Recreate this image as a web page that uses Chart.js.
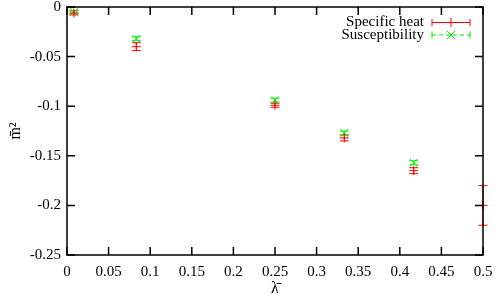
<!DOCTYPE html>
<html>
<head>
<meta charset="UTF-8">
<title>m2 vs lambda</title>
<script src="https://cdn.jsdelivr.net/npm/chart.js"></script>
<style>
  body { margin: 0; background: white; }
  #wrap { width: 498px; height: 298px; }
</style>
</head>
<body>
<div id="wrap"><canvas id="c"></canvas></div>
<script>
// values
const lambdaBar = [0.0083, 0.0833, 0.25, 0.3333, 0.4167, 0.5];
const specHeat = [-0.006, -0.040, -0.099, -0.132, -0.165, -0.200];
const specHeatErr = [0.002, 0.004, 0.002, 0.003, 0.003, 0.02];
const suscept = [-0.005, -0.032, -0.094, -0.127, -0.157];
const susceptErr = [0.0015, 0.002, 0.002, 0.002, 0.002];

const RED = '#ff0000';
const GREEN = '#00ee00';
const FONT = 'Liberation Serif';

function pts(xs, ys) {
    return ys.map((y, i) => ({ x: xs[i], y: y }));
}

function fmt(v) {
    return String(Math.round(v * 100) / 100);
}

// vertical error bars with caps, through the scales
const errorBars = {
    id: 'errorBars',
    beforeDatasetsDraw(chart) {
        const ctx = chart.ctx;
        const xs = chart.scales.x, ys = chart.scales.y;
        chart.data.datasets.forEach(ds => {
            if (!ds.errors) return;
            ctx.save();
            ctx.strokeStyle = ds.borderColor;
            ctx.lineWidth = 1;
            ds.data.forEach((p, i) => {
                const e = ds.errors[i];
                const px = xs.getPixelForValue(p.x);
                const y1 = ys.getPixelForValue(p.y - e);
                const y2 = ys.getPixelForValue(p.y + e);
                ctx.beginPath();
                ctx.moveTo(px, y1); ctx.lineTo(px, y2);
                ctx.moveTo(px - 4.5, y1); ctx.lineTo(px + 4.5, y1);
                ctx.moveTo(px - 4.5, y2); ctx.lineTo(px + 4.5, y2);
                ctx.stroke();
            });
            ctx.restore();
        });
    }
};

// gnuplot-like frame with inward mirrored ticks, plus key
const frame = {
    id: 'frame',
    afterDraw(chart) {
        const ctx = chart.ctx;
        const a = chart.chartArea;
        const xs = chart.scales.x, ys = chart.scales.y;
        ctx.save();
        ctx.strokeStyle = '#000';
        ctx.lineWidth = 1.5;
        ctx.beginPath();
        xs.ticks.forEach(t => {
            const px = xs.getPixelForValue(t.value);
            ctx.moveTo(px, a.bottom); ctx.lineTo(px, a.bottom - 8);
            ctx.moveTo(px, a.top); ctx.lineTo(px, a.top + 8);
        });
        ys.ticks.forEach(t => {
            const py = ys.getPixelForValue(t.value);
            ctx.moveTo(a.left, py); ctx.lineTo(a.left + 8, py);
            ctx.moveTo(a.right, py); ctx.lineTo(a.right - 8, py);
        });
        ctx.stroke();
        ctx.strokeRect(a.left, a.top, a.right - a.left, a.bottom - a.top);

        // key
        ctx.font = '15px "' + FONT + '"';
        ctx.fillStyle = '#000';
        ctx.textAlign = 'right';
        ctx.textBaseline = 'middle';
        const tx = 424, sx1 = 432, sx2 = 470, mx = 451;
        const rows = [22.5, 35];
        ctx.fillText('Specific heat', tx, rows[0]);
        ctx.fillText('Susceptibility', tx, rows[1]);

        ctx.lineWidth = 1;
        ctx.strokeStyle = RED;
        ctx.beginPath();
        ctx.moveTo(sx1, rows[0]); ctx.lineTo(sx2, rows[0]);
        ctx.moveTo(sx1, rows[0] - 3.5); ctx.lineTo(sx1, rows[0] + 3.5);
        ctx.moveTo(sx2, rows[0] - 3.5); ctx.lineTo(sx2, rows[0] + 3.5);
        ctx.moveTo(mx, rows[0] - 4.5); ctx.lineTo(mx, rows[0] + 4.5);
        ctx.stroke();

        ctx.strokeStyle = GREEN;
        ctx.beginPath();
        ctx.moveTo(sx1, rows[1] - 3.5); ctx.lineTo(sx1, rows[1] + 3.5);
        ctx.moveTo(sx2, rows[1] - 3.5); ctx.lineTo(sx2, rows[1] + 3.5);
        ctx.moveTo(mx - 4, rows[1] - 4); ctx.lineTo(mx + 4, rows[1] + 4);
        ctx.moveTo(mx - 4, rows[1] + 4); ctx.lineTo(mx + 4, rows[1] - 4);
        ctx.stroke();
        ctx.setLineDash([4, 3]);
        ctx.beginPath();
        ctx.moveTo(sx1, rows[1]); ctx.lineTo(sx2, rows[1]);
        ctx.stroke();
        ctx.restore();
    }
};

new Chart(document.getElementById('c'), {
    type: 'scatter',
    data: {
        datasets: [
            {
                label: 'Specific heat',
                data: pts(lambdaBar, specHeat),
                errors: specHeatErr,
                borderColor: RED,
                backgroundColor: RED,
                pointStyle: 'cross',
                pointRadius: 4.5,
                pointBorderWidth: 1,
                clip: false
            },
            {
                label: 'Susceptibility',
                data: pts(lambdaBar, suscept),
                errors: susceptErr,
                borderColor: GREEN,
                backgroundColor: GREEN,
                pointStyle: 'crossRot',
                pointRadius: 5.5,
                pointBorderWidth: 1,
                clip: false
            }
        ]
    },
    options: {
        responsive: true,
        maintainAspectRatio: false,
        animation: false,
        events: [],
        layout: { padding: { left: 0, right: 15, top: 7, bottom: 0 } },
        plugins: {
            legend: { display: false },
            tooltip: { enabled: false }
        },
        scales: {
            x: {
                type: 'linear',
                min: 0,
                max: 0.5,
                afterFit(s) { s.height = 43; s.paddingLeft = 0; s.paddingRight = 0; },
                ticks: {
                    stepSize: 0.05,
                    color: '#000',
                    padding: 8,
                    maxRotation: 0,
                    font: { family: FONT, size: 15 },
                    callback: v => fmt(v)
                },
                grid: { display: false, drawTicks: false },
                border: { display: false },
                title: {
                    display: true,
                    text: 'λ\u0304',
                    color: '#000',
                    padding: { top: 0, bottom: 0 },
                    font: { family: FONT, size: 16 }
                }
            },
            y: {
                min: -0.25,
                max: 0,
                afterFit(s) { s.width = 67; s.paddingTop = 0; s.paddingBottom = 0; },
                ticks: {
                    stepSize: 0.05,
                    color: '#000',
                    padding: 6,
                    font: { family: FONT, size: 15 },
                    callback: v => fmt(v)
                },
                grid: { display: false, drawTicks: false },
                border: { display: false },
                title: {
                    display: true,
                    text: 'm\u0304²',
                    color: '#000',
                    padding: { top: 6, bottom: 0 },
                    font: { family: FONT, size: 16 }
                }
            }
        }
    },
    plugins: [errorBars, frame]
});
</script>
</body>
</html>
